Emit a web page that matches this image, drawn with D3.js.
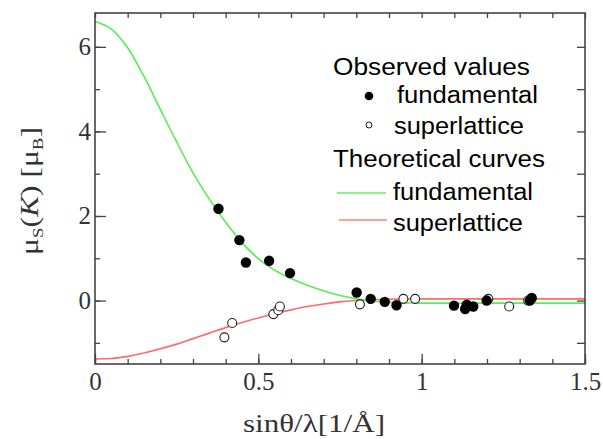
<!DOCTYPE html>
<html>
<head>
<meta charset="utf-8">
<script src="https://cdn.jsdelivr.net/npm/d3@7/dist/d3.min.js"></script>
<style>
  body { margin: 0; background: #fff; }
  svg { display: block; }
</style>
</head>
<body>
<svg id="chart" width="603" height="439"></svg>
<script>
// theoretical curves
let curveX = [0, 0.05, 0.1, 0.15, 0.2, 0.25, 0.3, 0.35, 0.4, 0.45, 0.5, 0.55, 0.6, 0.65, 0.7, 0.75, 0.8, 0.85, 0.9, 1.0, 1.5];
let fundCurve = [6.6, 6.42, 5.98, 5.3, 4.52, 3.75, 3.02, 2.4, 1.85, 1.37, 0.99, 0.72, 0.52, 0.36, 0.23, 0.12, 0.04, -0.01, -0.04, -0.06, -0.06];
let superX = [0, 0.05, 0.1, 0.15, 0.2, 0.25, 0.3, 0.35, 0.4, 0.45, 0.5, 0.55, 0.6, 0.65, 0.7, 0.75, 0.8, 0.9, 1.0, 1.5];
let superCurve = [-1.38, -1.37, -1.32, -1.24, -1.14, -1.03, -0.9, -0.77, -0.64, -0.52, -0.41, -0.31, -0.22, -0.14, -0.08, -0.03, 0.0, 0.03, 0.04, 0.04];

// observed values
let fundObsX = [0.378, 0.442, 0.462, 0.533, 0.597, 0.801, 0.844, 0.887, 0.923, 1.099, 1.133, 1.138, 1.158, 1.199, 1.331, 1.337];
let fundObsY = [2.17, 1.43, 0.90, 0.94, 0.65, 0.19, 0.04, -0.03, -0.11, -0.12, -0.2, -0.1, -0.14, 0.0, 0.0, 0.06];
let superObsX = [0.396, 0.42, 0.546, 0.561, 0.566, 0.811, 0.944, 0.98, 1.204, 1.268, 1.326];
let superObsY = [-0.87, -0.53, -0.32, -0.23, -0.14, -0.09, 0.04, 0.04, 0.04, -0.14, 0.0];

let xMajor = [0, 0.5, 1, 1.5];
let yMajor = [0, 2, 4, 6];

let chart = d3.select("#chart");
let padL = 95, padT = 13, padR = 585, padB = 364;
let width = padR - padL, height = padB - padT;

let g = chart.append("g").attr("transform", "translate(" + padL + "," + padT + ")");

let x = d3.scaleLinear().domain([0, 1.5]).range([0, width]);
let y = d3.scaleLinear().domain([-1.5, 6.8]).range([height, 0]);

let axisColor = "#444";
let serif = "'Liberation Serif', 'Times New Roman', serif";
let sans = "'Liberation Sans', Arial, sans-serif";

// curves
let line = d3.line().curve(d3.curveMonotoneX)
    .x(function(d) { return x(d[0]); })
    .y(function(d) { return y(d[1]); });

g.append("path")
    .datum(d3.zip(superX, superCurve))
    .attr("d", line)
    .attr("fill", "none")
    .attr("stroke", "#ff6a6a")
    .attr("stroke-width", 1.6);

g.append("path")
    .datum(d3.zip(curveX, fundCurve))
    .attr("d", line)
    .attr("fill", "none")
    .attr("stroke", "#55ee55")
    .attr("stroke-width", 1.6);

// observed points
g.selectAll(".super")
    .data(d3.zip(superObsX, superObsY))
    .enter()
    .append("circle")
      .attr("cx", function(d) { return x(d[0]); })
      .attr("cy", function(d) { return y(d[1]); })
      .attr("r", 4.5)
      .attr("fill", "#fff")
      .attr("stroke", "#222")
      .attr("stroke-width", 1.1);

g.selectAll(".fund")
    .data(d3.zip(fundObsX, fundObsY))
    .enter()
    .append("circle")
      .attr("cx", function(d) { return x(d[0]); })
      .attr("cy", function(d) { return y(d[1]); })
      .attr("r", 5.2)
      .attr("fill", "#000");

// axes: ticks point inward
function styleAxis(sel) {
    sel.select(".domain").remove();
    sel.selectAll("line").attr("stroke", axisColor).attr("stroke-width", 1.3);
    sel.selectAll("text").attr("fill", "#333").style("font-family", serif).style("font-size", "25px");
}

g.append("g").attr("transform", "translate(0," + height + ")")
    .call(d3.axisBottom(x).tickValues(d3.range(0, 1.51, 0.1)).tickSize(-5).tickFormat(""))
    .call(styleAxis);
g.append("g").attr("transform", "translate(0," + height + ")")
    .call(d3.axisBottom(x).tickValues(xMajor).tickSize(-10).tickPadding(8).tickFormat(d3.format("")))
    .call(styleAxis);
g.append("g")
    .call(d3.axisTop(x).tickValues(d3.range(0, 1.51, 0.1)).tickSize(-5).tickFormat(""))
    .call(styleAxis);

g.append("g")
    .call(d3.axisLeft(y).tickValues(d3.range(-1, 7, 1)).tickSize(-5).tickFormat(""))
    .call(styleAxis);
g.append("g")
    .call(d3.axisLeft(y).tickValues(yMajor).tickSize(-11).tickPadding(4).tickFormat(d3.format("d")))
    .call(styleAxis);
g.append("g").attr("transform", "translate(" + width + ",0)")
    .call(d3.axisRight(y).tickValues(d3.range(-1, 7, 1)).tickSize(-8).tickFormat(""))
    .call(styleAxis);

// frame
g.append("rect")
    .attr("x", 0).attr("y", 0)
    .attr("width", width).attr("height", height)
    .attr("fill", "none")
    .attr("stroke", axisColor)
    .attr("stroke-width", 1.6);

// axis titles
chart.append("text")
    .attr("x", 243).attr("y", 432)
    .attr("textLength", 142).attr("lengthAdjust", "spacingAndGlyphs")
    .style("font-family", serif).style("font-size", "25px").attr("fill", "#333")
    .text("sinθ/λ[1/Å]");

let yl = chart.append("text")
    .attr("transform", "translate(38,255) rotate(-90)")
    .attr("textLength", 128).attr("lengthAdjust", "spacingAndGlyphs")
    .style("font-family", serif).style("font-size", "25px").attr("fill", "#333");
yl.append("tspan").text("μ");
yl.append("tspan").attr("dy", 5).style("font-size", "15px").text("S");
yl.append("tspan").attr("dy", -5).text("(");
yl.append("tspan").style("font-style", "italic").text("K");
yl.append("tspan").text(") [μ");
yl.append("tspan").attr("dy", 5).style("font-size", "15px").text("B");
yl.append("tspan").attr("dy", -5).text("]");

// legend
function legendText(tx, ty, len, label) {
    chart.append("text")
        .attr("x", tx).attr("y", ty)
        .attr("textLength", len).attr("lengthAdjust", "spacingAndGlyphs")
        .style("font-family", sans).style("font-size", "23px").attr("fill", "#000")
        .text(label);
}
legendText(333, 75, 197, "Observed values");
chart.append("circle").attr("cx", 369).attr("cy", 96).attr("r", 4.3).attr("fill", "#000");
legendText(397, 103, 141, "fundamental");
chart.append("circle").attr("cx", 369).attr("cy", 125).attr("r", 3).attr("fill", "#fff")
    .attr("stroke", "#222").attr("stroke-width", 1);
legendText(394, 134, 130, "superlattice");
legendText(333, 167, 212, "Theoretical curves");
chart.append("line").attr("x1", 337).attr("x2", 386).attr("y1", 193).attr("y2", 193)
    .attr("stroke", "#66ee66").attr("stroke-width", 1.4);
legendText(393, 200, 140, "fundamental");
chart.append("line").attr("x1", 339).attr("x2", 387).attr("y1", 220).attr("y2", 220)
    .attr("stroke", "#ff8080").attr("stroke-width", 1.4);
legendText(393, 231, 130, "superlattice");
</script>
</body>
</html>
